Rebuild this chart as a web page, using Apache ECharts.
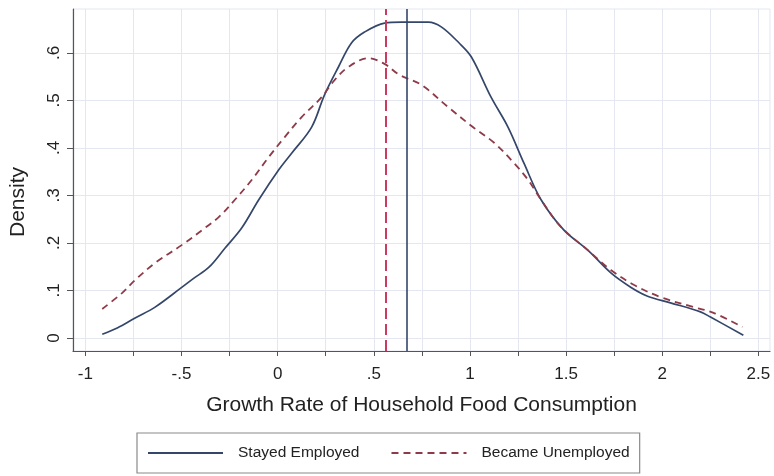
<!DOCTYPE html>
<html>
<head>
<meta charset="utf-8">
<style>
  html, body { margin: 0; padding: 0; background: #fff; }
  #chart { width: 774px; height: 476px; }
</style>
<script src="https://cdn.jsdelivr.net/npm/echarts@6/dist/echarts.min.js"></script>
</head>
<body>
<div id="chart"></div>
<script>
// Stayed Employed density curve
var employedX = [-0.912, -0.834, -0.741, -0.637, -0.497, -0.435, -0.357, -0.274, -0.186, -0.098,
  0.006, 0.073, 0.177, 0.244, 0.317, 0.384, 0.452, 0.556, 0.644, 0.784, 0.851, 0.944, 1.007,
  1.110, 1.198, 1.281, 1.370, 1.489, 1.613, 1.733, 1.836, 1.924, 2.043, 2.199, 2.251, 2.422]
var employedY = [0.008, 0.021, 0.042, 0.065, 0.107, 0.126, 0.149, 0.189, 0.232, 0.291,
  0.354, 0.389, 0.444, 0.512, 0.571, 0.621, 0.644, 0.663, 0.665, 0.665, 0.655, 0.621, 0.592,
  0.507, 0.444, 0.368, 0.291, 0.227, 0.185, 0.137, 0.107, 0.088, 0.074, 0.055, 0.044, 0.006]
// Became Unemployed density curve
var unemployedX = [-0.912, -0.808, -0.741, -0.637, -0.497, -0.393, -0.305, -0.222, -0.134, -0.046,
  0.037, 0.125, 0.229, 0.296, 0.369, 0.473, 0.556, 0.633, 0.747, 0.887, 1.022, 1.126, 1.230,
  1.302, 1.370, 1.473, 1.613, 1.733, 1.852, 1.992, 2.163, 2.267, 2.417]
var unemployedY = [0.061, 0.095, 0.122, 0.158, 0.196, 0.227, 0.255, 0.291, 0.333, 0.381,
  0.423, 0.465, 0.507, 0.543, 0.571, 0.589, 0.577, 0.554, 0.533, 0.486, 0.442, 0.411, 0.368,
  0.333, 0.291, 0.234, 0.185, 0.143, 0.112, 0.086, 0.065, 0.053, 0.023]
// group means (vertical lines)
var employedMean = 0.672
var unemployedMean = 0.558
// ticks
var xTicks = [-1, -0.75, -0.5, -0.25, 0, 0.25, 0.5, 0.75, 1, 1.25, 1.5, 1.75, 2, 2.25, 2.5]
var xLabels = [-1, -0.5, 0, 0.5, 1, 1.5, 2, 2.5]
var yTicks = [0, 0.1, 0.2, 0.3, 0.4, 0.5, 0.6]

var FONT = '"Liberation Sans", Arial, Helvetica, sans-serif'
var GRID_COLOR = '#e4e7f0'
var AXIS_COLOR = '#555'

// 去掉前导0: 0.5 -> .5
function stataNum (v) {
  var s = String(Math.round(v * 100) / 100)
  return s.replace(/^(-?)0\./, '$1.')
}

function pairs (xs, ys) {
  return xs.map(function (x, i) { return [x, ys[i]] })
}

var chart = echarts.init(document.getElementById('chart'))
chart.setOption({
  animation: false,
  textStyle: { fontFamily: FONT },
  grid: {
    left: 71,
    right: 4,
    top: 9,
    bottom: 125,
    show: true,
    borderColor: GRID_COLOR,
    borderWidth: 1
  },
  legend: {
    left: 137,
    top: 433,
    padding: [12, 10, 12, 10],
    itemWidth: 75,
    itemHeight: 14,
    itemGap: 31,
    borderColor: '#8a8a8a',
    borderWidth: 1.2,
    itemStyle: { opacity: 0 },
    textStyle: { fontSize: 15.5, color: '#222', fontFamily: FONT, padding: [0, 0, 0, 10] },
    data: ['Stayed Employed', 'Became Unemployed']
  },
  xAxis: {
    type: 'value',
    min: -1.064,
    max: 2.5605,
    name: 'Growth Rate of Household Food Consumption',
    nameLocation: 'middle',
    nameGap: 44,
    nameTextStyle: { fontSize: 21, color: '#222', fontFamily: FONT },
    axisLine: { show: true, onZero: false, lineStyle: { color: AXIS_COLOR, width: 1.2 } },
    axisTick: { show: true, length: 5, customValues: xTicks, lineStyle: { color: AXIS_COLOR } },
    axisLabel: {
      customValues: xLabels,
      margin: 15,
      fontSize: 17,
      color: '#222',
      formatter: stataNum
    },
    splitLine: { show: true, lineStyle: { color: GRID_COLOR, width: 1 } }
  },
  yAxis: {
    type: 'value',
    min: -0.0274,
    max: 0.6926,
    name: 'Density',
    nameLocation: 'middle',
    nameGap: 44,
    nameTextStyle: { fontSize: 21, color: '#222', fontFamily: FONT, padding: [0, 0, 0, -44] },
    axisLine: { show: true, onZero: false, lineStyle: { color: AXIS_COLOR, width: 1.2 } },
    axisTick: { show: true, length: 6, customValues: yTicks, lineStyle: { color: AXIS_COLOR } },
    axisLabel: {
      customValues: yTicks,
      rotate: 90,
      margin: 10,
      fontSize: 17,
      color: '#222',
      formatter: stataNum
    },
    splitLine: { show: true, lineStyle: { color: GRID_COLOR, width: 1 } }
  },
  series: [
    {
      name: 'Stayed Employed',
      type: 'line',
      smooth: 0.35,
      showSymbol: false,
      symbol: 'none',
      lineStyle: { color: '#34466a', width: 1.7 },
      itemStyle: { color: '#34466a' },
      data: pairs(employedX, employedY),
      markLine: {
        silent: true,
        symbol: 'none',
        label: { show: false },
        lineStyle: { color: '#34466a', width: 1.6, type: 'solid' },
        data: [{ xAxis: employedMean }]
      }
    },
    {
      name: 'Became Unemployed',
      type: 'line',
      smooth: 0.35,
      showSymbol: false,
      symbol: 'none',
      lineStyle: { color: '#8f3a48', width: 1.8, type: [7, 5] },
      itemStyle: { color: '#8f3a48' },
      data: pairs(unemployedX, unemployedY),
      markLine: {
        silent: true,
        symbol: 'none',
        label: { show: false },
        lineStyle: { color: '#cc3a60', width: 2, type: [11, 5] },
        data: [{ xAxis: unemployedMean }]
      }
    }
  ]
})
</script>
</body>
</html>
